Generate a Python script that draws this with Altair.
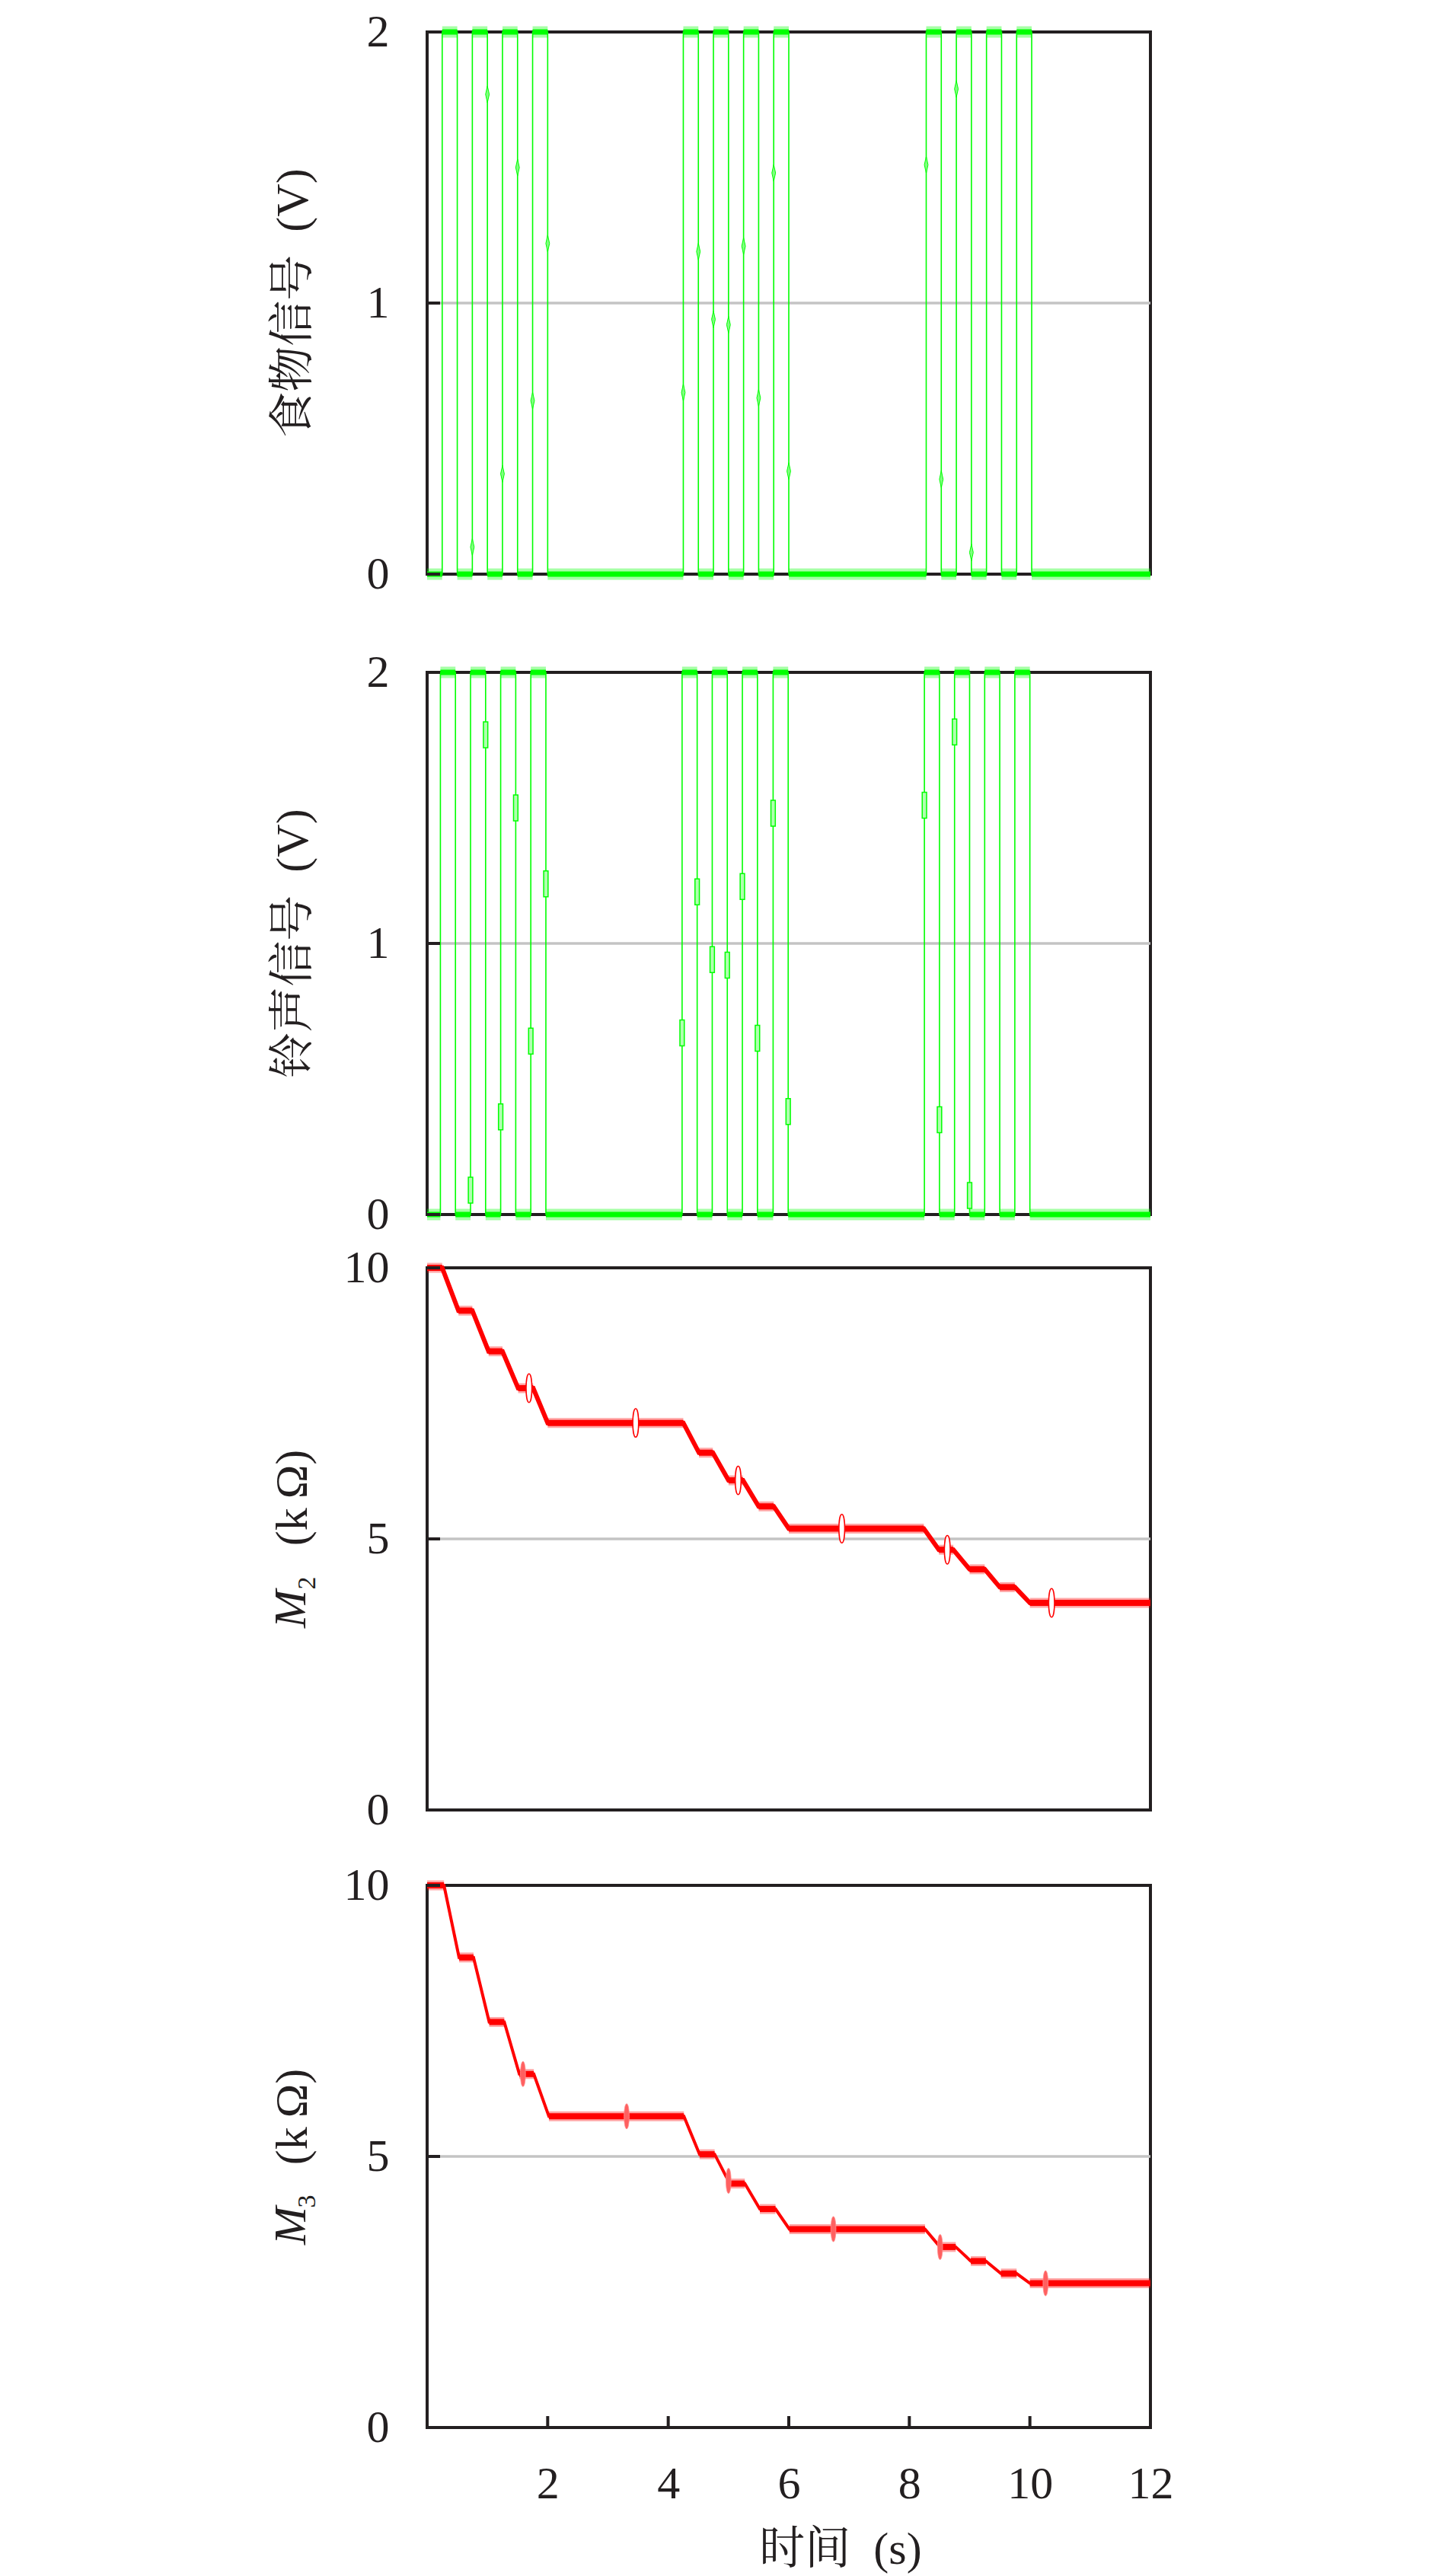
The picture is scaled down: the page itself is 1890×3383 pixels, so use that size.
import altair as alt
import pandas as pd

# ---------------- data ----------------
x_ticks = [2, 4, 6, 8, 10, 12]
sig_ticks = [0, 1, 2]
m_ticks = [0, 5, 10]
sig_grid = [1]
m_grid = [5]

food_rise = [0.25, 0.75, 1.25, 1.75, 4.25, 4.75, 5.25, 5.75, 8.28, 8.78, 9.28, 9.78]
food_fall = [0.50, 1.00, 1.50, 2.00, 4.50, 5.00, 5.50, 6.00, 8.53, 9.03, 9.53, 10.03]
food_mk_t = [0.75, 1.00, 1.25, 1.50, 1.75, 2.00, 4.25, 4.50, 4.75, 5.00, 5.25, 5.50, 5.75, 6.00, 8.28, 8.53, 8.78, 9.03]
food_mk_v = [0.10, 1.77, 0.37, 1.50, 0.64, 1.22, 0.67, 1.19, 0.94, 0.92, 1.21, 0.65, 1.48, 0.38, 1.51, 0.35, 1.79, 0.08]

bell_rise = [0.22, 0.72, 1.22, 1.72, 4.23, 4.73, 5.23, 5.74, 8.25, 8.75, 9.25, 9.75]
bell_fall = [0.47, 0.97, 1.47, 1.97, 4.48, 4.98, 5.48, 5.99, 8.50, 9.00, 9.50, 10.00]
bell_mk_t = [0.72, 0.97, 1.22, 1.47, 1.72, 1.97, 4.23, 4.48, 4.73, 4.98, 5.23, 5.48, 5.74, 5.99, 8.25, 8.50, 8.75, 9.00]
bell_mk_v = [0.09, 1.77, 0.36, 1.50, 0.64, 1.22, 0.67, 1.19, 0.94, 0.92, 1.21, 0.65, 1.48, 0.38, 1.51, 0.35, 1.78, 0.07]

m2_t = [0, 0.25, 0.52, 0.75, 1.02, 1.25, 1.51, 1.76, 2.00, 4.25, 4.51, 4.74, 5.00, 5.24, 5.50, 5.75, 6.00,
        8.24, 8.49, 8.73, 9.00, 9.25, 9.50, 9.75, 10.00, 12]
m2_v = [10, 10, 9.21, 9.21, 8.46, 8.46, 7.78, 7.78, 7.14, 7.14, 6.59, 6.59, 6.08, 6.08, 5.60, 5.60, 5.19,
        5.19, 4.80, 4.80, 4.44, 4.44, 4.11, 4.11, 3.82, 3.82]
m2_mk_t = [1.69, 3.46, 5.16, 6.88, 8.63, 10.36]
m2_mk_v = [7.78, 7.14, 6.08, 5.19, 4.80, 3.82]

m3_t = [0, 0.28, 0.53, 0.77, 1.03, 1.28, 1.53, 1.77, 2.02, 4.26, 4.52, 4.77, 5.02, 5.27, 5.52, 5.78, 6.01,
        8.26, 8.51, 8.77, 9.02, 9.27, 9.52, 9.78, 10.00, 12]
m3_v = [10, 10, 8.67, 8.67, 7.48, 7.48, 6.52, 6.52, 5.74, 5.74, 5.04, 5.04, 4.50, 4.50, 4.03, 4.03, 3.66,
        3.66, 3.33, 3.33, 3.07, 3.07, 2.84, 2.84, 2.66, 2.66]
m3_mk_t = [1.59, 3.31, 5.00, 6.74, 8.51, 10.26]
m3_mk_v = [6.52, 5.74, 4.55, 3.66, 3.33, 2.66]

# ---------------- styling ----------------
W, H = 950, 712
SERIF = "Liberation Serif"
CJK = "Liberation Serif, Noto Serif CJK SC, Noto Sans CJK SC"
INK = "#231f20"
GREEN = "#00ff00"
RED = "#ff0000"
FS = 60


def square_wave(rise, fall, lo=0.0, hi=2.0, t_end=12.0):
    pts = [(0.0, lo)]
    for r, f in zip(rise, fall):
        pts += [(r, lo), (r, hi), (f, hi), (f, lo)]
    pts.append((t_end, lo))
    df = pd.DataFrame(pts, columns=["t", "v"])
    df["o"] = range(len(df))
    return df


def path_df(ts, vs):
    df = pd.DataFrame({"t": ts, "v": vs})
    df["o"] = range(len(df))
    return df


def flats(df):
    rows = []
    for i in range(len(df) - 1):
        if df.v[i] == df.v[i + 1] and df.t[i] != df.t[i + 1]:
            rows.append({"t": df.t[i], "t2": df.t[i + 1], "v": df.v[i]})
    return pd.DataFrame(rows)


def text_layer(txt, x, y, size=FS, style="normal", font=CJK):
    return alt.Chart(pd.DataFrame({"a": [0]})).mark_text(
        text=txt, angle=270, align="center", baseline="alphabetic",
        font=font, fontSize=size, fontStyle=style, color=INK
    ).encode(x=alt.value(x), y=alt.value(y))


LABEL_EXPR = "'' + datum.value"


def panel(line_df, ydom, yticks, ygrid, color, lw, halo_w, core_w, mk_df, mk_shape, mk_size,
          mk_fill, mk_stroke, mk_sw, titles, show_x=False):
    xs = alt.Scale(domain=[0, 12], nice=False, zero=False)
    ys = alt.Scale(domain=ydom, nice=False, zero=False)
    yax = alt.Axis(values=yticks, title=None, ticks=False, tickSize=0, domain=False,
                   labelExpr=LABEL_EXPR, grid=False,
                   labelFont=SERIF, labelFontSize=FS, labelColor=INK, labelPadding=50,
                   labelFlush=False, labelOverlap=False)
    if show_x:
        xax = alt.Axis(values=x_ticks, title=None, ticks=False, tickSize=0, domain=False,
                       labelExpr=LABEL_EXPR,
                       grid=False, labelFont=SERIF, labelFontSize=FS, labelColor=INK,
                       labelPadding=45, labelFlush=False, labelOverlap=False)
    else:
        xax = None
    X = alt.X("t:Q", scale=xs, axis=xax)
    Y = alt.Y("v:Q", scale=ys, axis=yax)

    fl = flats(line_df)
    layers = [
        alt.Chart(pd.DataFrame({"v": ygrid})).mark_rule(color="#c4c4c4", strokeWidth=3.5).encode(
            x=alt.value(0), x2=alt.value(W), y=Y),
        alt.Chart(fl).mark_rule(color=color, strokeWidth=halo_w, opacity=0.35).encode(x=X, x2="t2:Q", y=Y),
        alt.Chart(fl).mark_rule(color=color, strokeWidth=core_w).encode(x=X, x2="t2:Q", y=Y),
        alt.Chart(line_df).mark_line(color=color, strokeWidth=lw).encode(x=X, y=Y, order="o:Q"),
        alt.Chart(mk_df).mark_point(shape=mk_shape, size=mk_size, filled=True, fill=mk_fill,
                                    stroke=mk_stroke, strokeWidth=mk_sw, opacity=1).encode(x=X, y=Y),
        alt.Chart(pd.DataFrame({"v": yticks})).mark_rule(color=INK, strokeWidth=4).encode(
            x=alt.value(0), x2=alt.value(17), y=Y),
    ]
    if show_x:
        layers.append(
            alt.Chart(pd.DataFrame({"t": x_ticks})).mark_rule(color=INK, strokeWidth=4).encode(
                x=X, y=alt.value(H), y2=alt.value(H - 15)))
    layers += titles
    return alt.layer(*layers).properties(
        width=W, height=H,
        view=alt.ViewBackground(stroke=INK, strokeWidth=4, strokeOpacity=1))


def spacer(h):
    return alt.Chart(pd.DataFrame({"a": [0]})).mark_text(text="").encode(
        x=alt.value(0), y=alt.value(0)
    ).properties(width=W, height=h, view=alt.ViewBackground(stroke="transparent", strokeWidth=0))


LENS = "M0,-1C0.27,-1 0.27,1 0,1C-0.27,1 -0.27,-1 0,-1Z"
DIAMOND = "M0,-1L0.22,0L0,1L-0.22,0Z"
RECT = "M-0.17,-1H0.17V1H-0.17Z"

food_df = square_wave(food_rise, food_fall)
bell_df = square_wave(bell_rise, bell_fall)
m2_df = path_df(m2_t, m2_v)
m3_df = path_df(m3_t, m3_v)

p1 = panel(food_df, [0, 2], sig_ticks, sig_grid, GREEN, 1.6, 15, 7,
           pd.DataFrame({"t": food_mk_t, "v": food_mk_v}), DIAMOND, 484, "#80ff80", GREEN, 1,
           [text_layer("食物信号\u2002(V)", -157, H / 2)])
p2 = panel(bell_df, [0, 2], sig_ticks, sig_grid, GREEN, 1.6, 15, 7,
           pd.DataFrame({"t": bell_mk_t, "v": bell_mk_v}), RECT, 1156, "#b0ffb0", GREEN, 1.5,
           [text_layer("铃声信号\u2002(V)", -157, H / 2)])
p3 = panel(m2_df, [0, 10], m_ticks, m_grid, RED, 6, 13, 8,
           pd.DataFrame({"t": m2_mk_t, "v": m2_mk_v}), LENS, 1400, "#ffffff", RED, 1.5,
           [text_layer("M", -160, 448, style="italic", font=SERIF),
            text_layer("2", -147, 414, size=34, font=SERIF),
            text_layer("(k\u2009Ω)", -158, 302, font=SERIF)])
p4 = panel(m3_df, [0, 10], m_ticks, m_grid, RED, 4, 13, 8,
           pd.DataFrame({"t": m3_mk_t, "v": m3_mk_v}), LENS, 1090, "#ff6060", "#ff9090", 0.8,
           [text_layer("M", -160, 447, style="italic", font=SERIF),
            text_layer("3", -147, 415, size=34, font=SERIF),
            text_layer("(k\u2009Ω)", -158, 304, font=SERIF),
            alt.Chart(pd.DataFrame({"a": [0]})).mark_text(
                text="时间\u2002(s)", align="center", baseline="alphabetic",
                font=CJK, fontSize=FS, color=INK
            ).encode(x=alt.value(543), y=alt.value(H + 179))],
           show_x=True)

chart = alt.vconcat(
    p1, spacer(129), p2, spacer(70), p3, spacer(99), p4,
    spacing=0, bounds="flush"
).configure_view(
    stroke=INK, strokeWidth=4
).properties(
    padding={"left": 343, "top": 2, "right": 10, "bottom": 0},
    background="white"
)

chart.save("out.html", embed_options={"renderer": "svg", "actions": False})
